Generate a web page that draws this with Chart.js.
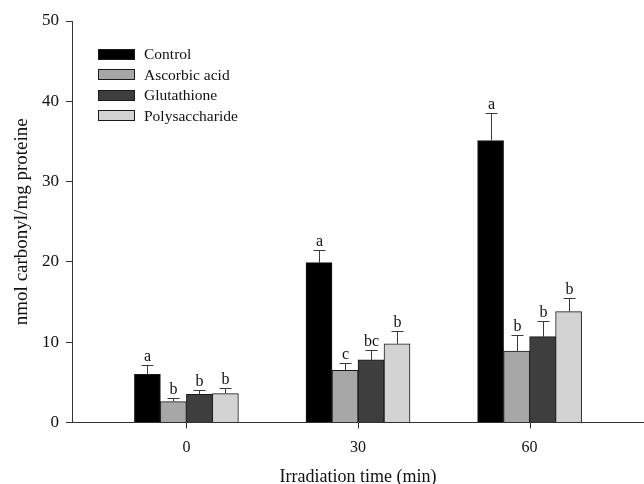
<!DOCTYPE html>
<html>
<head>
<meta charset="utf-8">
<script src="https://cdn.jsdelivr.net/npm/chart.js@4.4.1/dist/chart.umd.min.js"></script>
<style>
  html, body { margin: 0; padding: 0; background: #ffffff; }
  #wrap { width: 644px; height: 484px; }
</style>
</head>
<body>
<div id="wrap"><canvas id="c" width="644" height="484"></canvas></div>
<script>
// ---- data ----
const categories = [0, 30, 60];                 // irradiation time (min)
const seriesNames = ['Control', 'Ascorbic acid', 'Glutathione', 'Polysaccharide'];
const control        = [6.0, 19.9, 35.1];
const ascorbicAcid   = [2.6, 6.5, 8.9];
const glutathione    = [3.5, 7.8, 10.7];
const polysaccharide = [3.6, 9.8, 13.8];
const controlErr        = [1.1, 1.55, 3.5];
const ascorbicAcidErr   = [0.45, 0.95, 1.95];
const glutathioneErr    = [0.55, 1.25, 1.9];
const polysaccharideErr = [0.7, 1.55, 1.65];
const controlSig        = ['a', 'a', 'a'];
const ascorbicAcidSig   = ['b', 'c', 'b'];
const glutathioneSig    = ['b', 'bc', 'b'];
const polysaccharideSig = ['b', 'b', 'b'];
const yTicks = [0, 10, 20, 30, 40, 50];
const xTicks = [0, 30, 60];

const colors = ['#000000', '#a7a7a7', '#3e3e3e', '#d3d3d3'];
const values = [control, ascorbicAcid, glutathione, polysaccharide];
const errors = [controlErr, ascorbicAcidErr, glutathioneErr, polysaccharideErr];
const sigs = [controlSig, ascorbicAcidSig, glutathioneSig, polysaccharideSig];

const SERIF = "'Liberation Serif', 'DejaVu Serif', serif";

const datasets = seriesNames.map((name, i) => ({
  label: name,
  data: categories.map((c, j) => ({ x: c, y: values[i][j] })),
  backgroundColor: colors[i],
  borderColor: '#1a1a1a',
  borderWidth: 1,
  borderSkipped: 'bottom',
  barThickness: 26,
  errs: errors[i],
  sigs: sigs[i]
}));

const errorPlugin = {
  id: 'errorBars',
  afterDatasetsDraw(chart) {
    const ctx = chart.ctx;
    const y = chart.scales.y;
    const x = chart.scales.x;
    ctx.save();
    chart.data.datasets.forEach((ds, i) => {
      const meta = chart.getDatasetMeta(i);
      meta.data.forEach((bar, j) => {
        const v = ds.data[j].y;
        const e = ds.errs[j];
        const yTop = y.getPixelForValue(v);
        const yErr = y.getPixelForValue(v + e);
        const cx = Math.round(bar.x) + 0.5;
        ctx.strokeStyle = '#3a3a3a';
        ctx.lineWidth = 1;
        ctx.beginPath();
        ctx.moveTo(cx, yTop);
        ctx.lineTo(cx, Math.round(yErr) + 0.5);
        ctx.moveTo(cx - 6, Math.round(yErr) + 0.5);
        ctx.lineTo(cx + 6, Math.round(yErr) + 0.5);
        ctx.stroke();
        ctx.fillStyle = '#111111';
        ctx.font = '16px ' + SERIF;
        ctx.textAlign = 'center';
        ctx.textBaseline = 'alphabetic';
        ctx.fillText(ds.sigs[j], cx, Math.round(yErr) - 4);
      });
    });
    // x-axis tick marks (below the axis, at the category values)
    ctx.strokeStyle = '#333333';
    ctx.lineWidth = 1;
    ctx.beginPath();
    xTicks.forEach(v => {
      const px = Math.round(x.getPixelForValue(v)) + 0.5;
      ctx.moveTo(px, x.top);
      ctx.lineTo(px, x.top + 6);
    });
    ctx.stroke();
    ctx.restore();
  }
};

const legendPlugin = {
  id: 'insideLegend',
  afterDraw(chart) {
    const ctx = chart.ctx;
    ctx.save();
    chart.data.datasets.forEach((ds, i) => {
      const cy = 54 + i * 20.5;
      ctx.fillStyle = ds.backgroundColor;
      ctx.fillRect(98, Math.round(cy - 5.5), 37, 11);
      ctx.strokeStyle = '#1a1a1a';
      ctx.lineWidth = 1;
      ctx.strokeRect(98.5, Math.round(cy - 5.5) + 0.5, 36, 10);
      ctx.fillStyle = '#111111';
      ctx.font = '15.5px ' + SERIF;
      ctx.textAlign = 'left';
      ctx.textBaseline = 'middle';
      ctx.fillText(ds.label, 144, cy + 1);
    });
    ctx.restore();
  }
};

new Chart(document.getElementById('c'), {
  type: 'bar',
  data: { datasets },
  options: {
    responsive: false,
    animation: false,
    devicePixelRatio: 1,
    layout: { padding: { top: 21, right: 0, bottom: 0, left: 0 } },
    plugins: { legend: { display: false }, tooltip: { enabled: false } },
    scales: {
      x: {
        type: 'linear',
        min: -20,
        max: 80,
        offset: false,
        afterBuildTicks(scale) { scale.ticks = xTicks.map(v => ({ value: v })); },
        afterFit(scale) { scale.height = 61.5; },
        grid: { display: false, offset: false, tickLength: 6 },
        border: { display: true, color: '#333333', width: 1 },
        ticks: { color: '#111111', font: { family: SERIF, size: 16 }, padding: 10, maxRotation: 0 },
        title: { display: true, text: 'Irradiation time (min)', color: '#111111', font: { family: SERIF, size: 18, lineHeight: 1 }, padding: { top: 0, bottom: -2 } }
      },
      y: {
        min: 0,
        max: 50,
        afterBuildTicks(scale) { scale.ticks = yTicks.map(v => ({ value: v })); },
        afterFit(scale) { scale.width = 72; },
        grid: { display: true, drawOnChartArea: false, drawTicks: true, tickLength: 6, color: '#333333', lineWidth: 1 },
        border: { display: true, color: '#333333', width: 1 },
        ticks: { color: '#111111', font: { family: SERIF, size: 17 }, padding: 7 },
        title: { display: true, text: 'nmol carbonyl/mg proteine', color: '#111111', font: { family: SERIF, size: 19, lineHeight: 1 }, padding: { top: 13, bottom: 0 } }
      }
    }
  },
  plugins: [errorPlugin, legendPlugin]
});
</script>
</body>
</html>
